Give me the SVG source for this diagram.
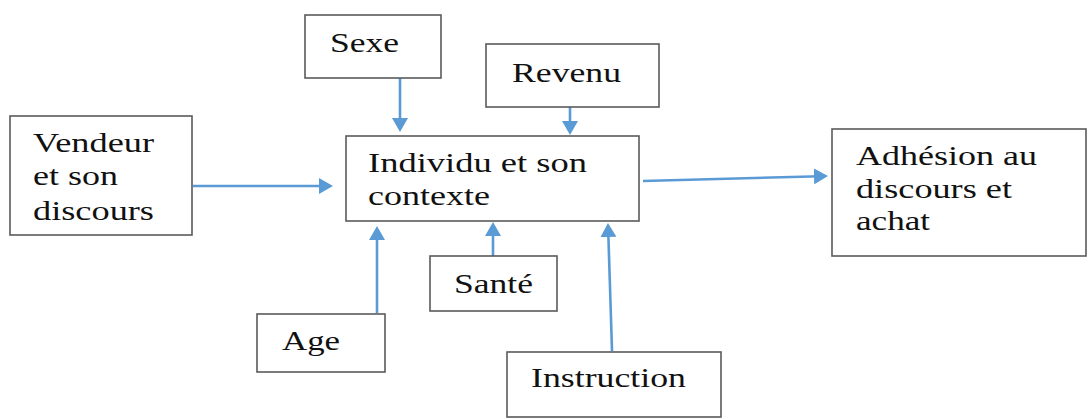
<svg xmlns="http://www.w3.org/2000/svg" width="1090" height="419" viewBox="0 0 1090 419">
<style>
.box{fill:#fff;stroke:#5a5a5a;stroke-width:1.6}
.t{font-family:'Liberation Serif','Times New Roman',Times,serif;font-size:28px;fill:#111}
.c{stroke:#5b9bd5;stroke-width:2.6;fill:none}
</style>
<defs>
<marker id="ah" viewBox="0 0 14 16" refX="7" refY="8" markerWidth="14" markerHeight="16" markerUnits="userSpaceOnUse" orient="auto">
<path d="M0,0 L14,8 L0,16 z" fill="#5b9bd5"/>
</marker>
</defs>
<rect width="1090" height="419" fill="#fff"/>
<g id="connectors">
<line class="c" x1="193" y1="186" x2="326" y2="186" marker-end="url(#ah)"/>
<line class="c" x1="400" y1="78" x2="400" y2="125" marker-end="url(#ah)"/>
<line class="c" x1="570" y1="107" x2="570" y2="128" marker-end="url(#ah)"/>
<line class="c" x1="643" y1="181" x2="821" y2="176.2" marker-end="url(#ah)"/>
<line class="c" x1="377" y1="313" x2="377" y2="233" marker-end="url(#ah)"/>
<line class="c" x1="493" y1="256" x2="493" y2="229" marker-end="url(#ah)"/>
<line class="c" x1="612" y1="351" x2="608.2" y2="230" marker-end="url(#ah)"/>
</g>
<g id="sexe">
<rect class="box" x="305" y="15" width="136" height="63"/>
<text class="t" font-family="Liberation Serif" x="330" y="52" textLength="69" lengthAdjust="spacingAndGlyphs">Sexe</text>
</g>
<g id="revenu">
<rect class="box" x="486" y="44" width="173" height="63"/>
<text class="t" x="512" y="82" textLength="109" lengthAdjust="spacingAndGlyphs">Revenu</text>
</g>
<g id="vendeur">
<rect class="box" x="10" y="116" width="182" height="119"/>
<text class="t" x="33" y="152" textLength="121" lengthAdjust="spacingAndGlyphs">Vendeur</text>
<text class="t" x="33" y="185" textLength="85" lengthAdjust="spacingAndGlyphs">et son</text>
<text class="t" x="33" y="220" textLength="121" lengthAdjust="spacingAndGlyphs">discours</text>
</g>
<g id="individu">
<rect class="box" x="346" y="136" width="293" height="85"/>
<text class="t" x="368" y="172" textLength="219" lengthAdjust="spacingAndGlyphs">Individu et son</text>
<text class="t" x="368" y="205" textLength="122" lengthAdjust="spacingAndGlyphs">contexte</text>
</g>
<g id="adhesion">
<rect class="box" x="832" y="129" width="254" height="127"/>
<text class="t" x="856" y="165" textLength="181" lengthAdjust="spacingAndGlyphs">Adhésion au</text>
<text class="t" x="856" y="198" textLength="156" lengthAdjust="spacingAndGlyphs">discours et</text>
<text class="t" x="856" y="230" textLength="74" lengthAdjust="spacingAndGlyphs">achat</text>
</g>
<g id="age">
<rect class="box" x="257" y="314" width="128" height="58"/>
<text class="t" x="282" y="350" textLength="58" lengthAdjust="spacingAndGlyphs">Age</text>
</g>
<g id="sante">
<rect class="box" x="430" y="256" width="127" height="55"/>
<text class="t" x="454" y="293" textLength="79" lengthAdjust="spacingAndGlyphs">Santé</text>
</g>
<g id="instruction">
<rect class="box" x="507" y="352" width="214" height="65"/>
<text class="t" x="531" y="387" textLength="155" lengthAdjust="spacingAndGlyphs">Instruction</text>
</g>
</svg>
